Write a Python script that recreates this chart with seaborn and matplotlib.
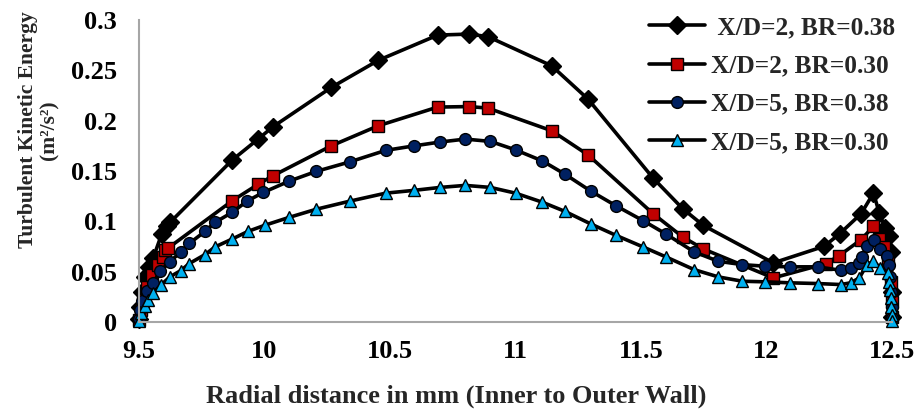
import matplotlib
matplotlib.use("Agg")
import matplotlib.pyplot as plt
import seaborn as sns

# ---- data ----
labels = [" X/D=2, BR=0.38", "X/D=2, BR=0.30", "X/D=5, BR=0.38", "X/D=5, BR=0.30"]

x1 = [9.500, 9.505, 9.512, 9.525, 9.540, 9.557, 9.59, 9.61, 9.624, 9.872,
      9.976, 10.034, 10.266, 10.454, 10.69, 10.814, 10.89, 11.144, 11.289, 11.548,
      11.666, 11.748, 12.027, 12.23, 12.292, 12.377, 12.426, 12.45, 12.473, 12.49,
      12.497, 12.5, 12.5]
y1 = [0.003, 0.015, 0.03, 0.045, 0.055, 0.064, 0.087, 0.095, 0.099, 0.161,
      0.182, 0.194, 0.233, 0.260, 0.285, 0.286, 0.2835, 0.2545, 0.2214, 0.143,
      0.1126, 0.096, 0.0587, 0.0752, 0.0878, 0.1076, 0.128, 0.108, 0.093, 0.085,
      0.07, 0.03, 0.005]

x2 = [9.500, 9.507, 9.516, 9.53, 9.55, 9.575, 9.597, 9.604, 9.617, 9.872,
      9.976, 10.034, 10.266, 10.454, 10.69, 10.814, 10.89, 11.144, 11.289, 11.548,
      11.666, 11.748, 12.027, 12.237, 12.29, 12.377, 12.426, 12.45, 12.47, 12.485,
      12.495, 12.5, 12.5]
y2 = [0.002, 0.012, 0.022, 0.035, 0.047, 0.057, 0.065, 0.072, 0.0736, 0.1205,
      0.137, 0.1453, 0.175, 0.195, 0.2135, 0.214, 0.2125, 0.190, 0.166, 0.1076,
      0.0845, 0.0726, 0.0438, 0.058, 0.066, 0.0818, 0.095, 0.082, 0.075, 0.06,
      0.04, 0.02, 0.005]

x3 = [9.500, 9.505, 9.511, 9.531, 9.557, 9.584, 9.624, 9.666, 9.70, 9.763,
      9.803, 9.872, 9.93, 9.996, 10.099, 10.206, 10.339, 10.483, 10.597, 10.70,
      10.80, 10.90, 11.0, 11.107, 11.196, 11.30, 11.40, 11.508, 11.599, 11.712,
      11.808, 11.904, 11.995, 12.095, 12.204, 12.295, 12.335, 12.37, 12.38, 12.40,
      12.43, 12.454, 12.48, 12.487, 12.493, 12.497, 12.5, 12.5]
y3 = [0.003, 0.012, 0.0206, 0.0306, 0.039, 0.0504, 0.060, 0.0696, 0.078, 0.090,
      0.099, 0.109, 0.120, 0.1288, 0.140, 0.1496, 0.159, 0.1705, 0.175, 0.1788,
      0.1817, 0.1794, 0.171, 0.160, 0.147, 0.130, 0.1155, 0.1007, 0.0875, 0.0696,
      0.0603, 0.057, 0.0554, 0.0548, 0.0548, 0.0514, 0.0538, 0.0587, 0.0647, 0.0759,
      0.0811, 0.0729, 0.066, 0.057, 0.045, 0.03, 0.015, 0.004]

x4 = [9.5, 9.507, 9.524, 9.535, 9.557, 9.588, 9.624, 9.666, 9.70, 9.763,
      9.803, 9.872, 9.934, 10.0, 10.099, 10.206, 10.339, 10.483, 10.597, 10.70,
      10.80, 10.90, 11.0, 11.107, 11.196, 11.30, 11.40, 11.508, 11.599, 11.712,
      11.808, 11.904, 11.995, 12.095, 12.204, 12.295, 12.335, 12.37, 12.40, 12.426,
      12.454, 12.485, 12.49, 12.493, 12.495, 12.497, 12.5, 12.5]
y4 = [0.001, 0.009, 0.016, 0.022, 0.029, 0.037, 0.045, 0.051, 0.058, 0.067,
      0.0746, 0.0825, 0.090, 0.096, 0.104, 0.112, 0.120, 0.128, 0.1308, 0.1337,
      0.1357, 0.1337, 0.128, 0.119, 0.110, 0.0974, 0.0861, 0.0746, 0.0647, 0.052,
      0.0448, 0.0405, 0.0399, 0.0389, 0.0382, 0.0372, 0.0389, 0.0438, 0.057, 0.0603,
      0.0538, 0.0488, 0.04, 0.032, 0.024, 0.015, 0.007, 0.001]

x_ticks = [9.5, 10, 10.5, 11, 11.5, 12, 12.5]
x_ticklabels = ["9.5", "10", "10.5", "11", "11.5", "12", "12.5"]
y_ticks = [0, 0.05, 0.1, 0.15, 0.2, 0.25, 0.3]
y_ticklabels = ["0", "0.05", "0.1", "0.15", "0.2", "0.25", "0.3"]

# ---- style ----
sns.set_theme(style="white")
plt.rcParams["font.family"] = ["Liberation Serif", "DejaVu Serif"]
plt.rcParams["font.weight"] = "bold"

fig = plt.figure(figsize=(9.16, 4.18), dpi=100)
ax = fig.add_axes([139 / 916, 1 - 322 / 418, (892 - 139) / 916, (322 - 20) / 418])

styles = [
    dict(marker="D", markersize=9, markerfacecolor="black"),
    dict(marker="s", markersize=8, markerfacecolor="#C00000"),
    dict(marker="o", markersize=8.5, markerfacecolor="#002060"),
    dict(marker="^", markersize=8.5, markerfacecolor="#00B0F0"),
]
series = [(x1, y1), (x2, y2), (x3, y3), (x4, y4)]
for (xs, ys), lab, st in zip(series, labels, styles):
    sns.lineplot(x=xs, y=ys, ax=ax, sort=False, estimator=None, color="black",
                 linewidth=2.6, markeredgecolor="black", markeredgewidth=1.0,
                 label=lab, clip_on=False, **st)

ax.set_xlim(9.5, 12.5)
ax.set_ylim(0, 0.3)
ax.set_xticks(x_ticks)
ax.set_xticklabels(x_ticklabels)
ax.set_yticks(y_ticks)
ax.set_yticklabels(y_ticklabels)

for side in ["top", "right"]:
    ax.spines[side].set_visible(False)
for side in ["left", "bottom"]:
    ax.spines[side].set_color("#A6A6A6")
    ax.spines[side].set_linewidth(1.5)

ax.tick_params(axis="both", which="major", direction="out", length=7, width=1.5,
               color="#A6A6A6", labelsize=19, labelcolor="black")
ax.tick_params(axis="x", pad=6)
ax.tick_params(axis="y", pad=9)
for t in ax.get_xticklabels() + ax.get_yticklabels():
    t.set_fontweight("bold")

ax.set_xlabel("")
ax.set_ylabel("")
fig.text((205 + 707) / 2 / 916, 1 - 396 / 418, "Radial distance in mm (Inner to Outer Wall)",
         ha="center", va="center", fontsize=19, fontweight="bold")
fig.text(39 / 916, 1 - 130 / 418, "Turbulent Kinetic Energy\n(m\u00b2/s\u00b2)",
         ha="center", va="center", rotation=90, fontsize=15.5, fontweight="bold",
         multialignment="center", linespacing=1.1)

leg = ax.legend(loc="upper left", bbox_to_anchor=(639 / 916, 1 - 6 / 418),
                bbox_transform=fig.transFigure, frameon=False,
                prop=dict(size=18.3, weight="bold"), handlelength=2.2,
                handletextpad=0.25, labelspacing=0.6, borderaxespad=0)

fig.savefig("out.png", dpi=100)
